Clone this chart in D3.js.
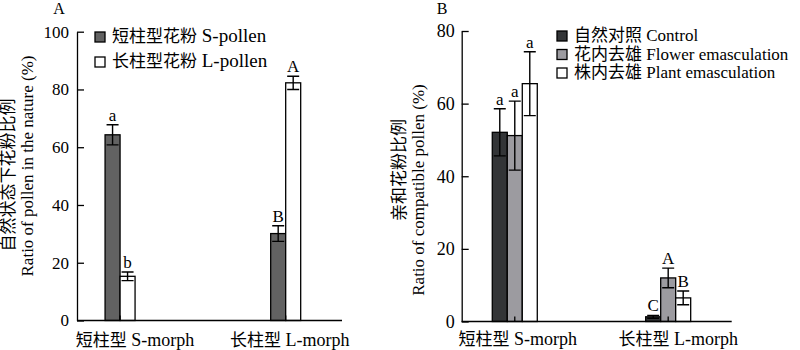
<!DOCTYPE html>
<html>
<head>
<meta charset="utf-8">
<script src="https://cdn.jsdelivr.net/npm/d3@7"></script>
<style>
  html, body { margin: 0; padding: 0; background: #fff; }
  svg { display: block; }
  text { font-family: "Liberation Serif", "Noto Sans CJK SC", serif; fill: #000; }
</style>
</head>
<body>
<svg id="chart" width="800" height="350"></svg>
<script>
// ---- data ----
const morphs = ["短柱型 S-morph", "长柱型 L-morph"];

// Panel A: pollen composition in natural conditions (%)
const pollenSeries = ["短柱型花粉 S-pollen", "长柱型花粉 L-pollen"];
const sPollen = [64.3, 30.1];
const sPollenErr = [3.5, 2.7];
const sPollenSig = ["a", "B"];
const lPollen = [15.3, 82.3];
const lPollenErr = [1.5, 2.3];
const lPollenSig = ["b", "A"];
const ticksA = [0, 20, 40, 60, 80, 100];

// Panel B: compatible pollen ratio under emasculation treatments (%)
const treatments = ["自然对照 Control", "花内去雄 Flower emasculation", "株内去雄 Plant emasculation"];
const control = [52.1, 1.3];
const controlErr = [6.5, 0.4];
const controlSig = ["a", "C"];
const flowerEm = [51.2, 12.0];
const flowerEmErr = [9.5, 2.7];
const flowerEmSig = ["a", "A"];
const plantEm = [65.5, 6.5];
const plantEmErr = [8.8, 1.9];
const plantEmSig = ["a", "B"];
const ticksB = [0, 20, 40, 60, 80];

// ---- layout ----
const svg = d3.select("#chart");
const FS = 17;
const BAR_W = 15;

// Writes "中文 Latin" as two tspans so the Chinese and Latin parts can be sized separately.
function mixedText(sel, str, cjkSize, latSize) {
  const cut = str.indexOf(" ");
  sel.append("tspan").attr("font-size", cjkSize).text(str.slice(0, cut));
  sel.append("tspan").attr("font-size", latSize).text(str.slice(cut));
}

function drawPanel(cfg) {
  const g = svg.append("g");
  const y = d3.scaleLinear().domain([0, cfg.yMax]).range([cfg.bottom, cfg.top]);
  const x = d3.scaleLinear().domain(cfg.xDomain).range([cfg.left, cfg.right]);
  const inner = d3.scaleBand()
    .domain(cfg.series.map(s => s.name))
    .range([-BAR_W * cfg.series.length / 2, BAR_W * cfg.series.length / 2])
    .paddingInner(0);

  // y axis, ticks pointing inward
  const yAxis = d3.axisLeft(y).tickValues(cfg.ticks).tickSizeInner(-7).tickSizeOuter(0).tickPadding(cfg.tickPad);
  const ya = g.append("g").attr("transform", `translate(${cfg.left},0)`).call(yAxis);
  ya.selectAll("path, line").attr("stroke", "#000").attr("stroke-width", 1.3);
  ya.selectAll("text").attr("font-size", cfg.tickFS).attr("font-family", "Liberation Serif");

  // bars
  cfg.series.forEach(s => {
    const rows = morphs.map((m, i) => ({ i, v: s.values[i], e: s.err[i], sig: s.sig[i] }));
    const sg = g.append("g");
    sg.selectAll("rect").data(rows).join("rect")
      .attr("x", d => x(d.i) + inner(s.name))
      .attr("y", d => y(d.v))
      .attr("width", inner.bandwidth())
      .attr("height", d => y(0) - y(d.v))
      .attr("fill", s.color)
      .attr("stroke", "#000")
      .attr("stroke-width", 1.3);

    const cx = d => x(d.i) + inner(s.name) + inner.bandwidth() / 2;
    // error bars
    sg.selectAll("path.err").data(rows).join("path")
      .attr("class", "err")
      .attr("fill", "none")
      .attr("stroke", "#000")
      .attr("stroke-width", 1.4)
      .attr("d", d => {
        const c = cx(d), t = y(d.v + d.e), b = y(Math.max(0, d.v - d.e));
        return `M${c - 6},${t}H${c + 6}M${c},${t}V${b}M${c - 6},${b}H${c + 6}`;
      });
    // significance letters
    sg.selectAll("text.sig").data(rows).join("text")
      .attr("class", "sig")
      .attr("x", cx)
      .attr("y", d => y(d.v + d.e) - 4)
      .attr("text-anchor", "middle")
      .attr("font-size", cfg.sigFS)
      .text(d => d.sig);
  });

  // x axis: baseline, inward ticks at group centres, category labels
  g.append("line")
    .attr("x1", cfg.left).attr("x2", cfg.right)
    .attr("y1", y(0)).attr("y2", y(0))
    .attr("stroke", "#000").attr("stroke-width", 1.3);
  g.selectAll("line.xt").data(morphs).join("line")
    .attr("class", "xt")
    .attr("x1", (m, i) => x(i)).attr("x2", (m, i) => x(i))
    .attr("y1", y(0)).attr("y2", y(0) - 5)
    .attr("stroke", "#000").attr("stroke-width", 1.3);
  g.selectAll("text.xl").data(morphs).join("text")
    .attr("class", "xl")
    .attr("x", (m, i) => x(i) + cfg.labelShift[i])
    .attr("y", cfg.labelY)
    .attr("text-anchor", "middle")
    .each(function (m) { mixedText(d3.select(this), m, FS, cfg.xLatFS); });

  // y axis title (two lines)
  cfg.yTitle.forEach((t, k) => {
    g.append("text")
      .attr("transform", `translate(${cfg.yTitleX[k]},${cfg.yTitleY[k]}) rotate(-90)`)
      .attr("text-anchor", "middle")
      .attr("font-size", FS)
      .text(t);
  });

  // panel letter
  g.append("text")
    .attr("x", cfg.letterX).attr("y", 14)
    .attr("text-anchor", "middle")
    .attr("font-size", 16)
    .text(cfg.letter);

  // legend
  const lg = g.append("g").attr("transform", `translate(${cfg.legendX},${cfg.legendY})`);
  cfg.series.forEach((s, k) => {
    const row = lg.append("g").attr("transform", `translate(0,${k * cfg.legendStep})`);
    row.append("rect")
      .attr("x", 0).attr("y", -10).attr("width", 10).attr("height", 10)
      .attr("fill", s.color).attr("stroke", "#000").attr("stroke-width", 1.3);
    const t = row.append("text").attr("x", 17).attr("y", 0);
    mixedText(t, s.name, FS, cfg.legendLatFS);
  });
}

drawPanel({
  letter: "A", letterX: 59,
  yMax: 100, ticks: ticksA, top: 31.7, bottom: 320.5,
  left: 77, right: 342, xDomain: [-0.26, 1.34], tickPad: 8, tickFS: 17, sigFS: 17,
  labelShift: [15, 4], labelY: 346, xLatFS: 18,
  yTitle: ["自然状态下花粉比例", "Ratio of pollen in the nature (%)"],
  yTitleX: [14, 33], yTitleY: [175, 166],
  legendX: 95, legendY: 42, legendStep: 25, legendLatFS: 19,
  series: [
    { name: pollenSeries[0], values: sPollen, err: sPollenErr, sig: sPollenSig, color: "#626262" },
    { name: pollenSeries[1], values: lPollen, err: lPollenErr, sig: lPollenSig, color: "#ffffff" }
  ]
});

drawPanel({
  letter: "B", letterX: 442,
  yMax: 80, ticks: ticksB, top: 31, bottom: 321.5,
  left: 461.7, right: 731.7, xDomain: [-0.346, 1.414], tickPad: 7, tickFS: 18, sigFS: 17,
  labelShift: [3, 10], labelY: 345, xLatFS: 18,
  yTitle: ["亲和花粉比例", "Ratio of compatible pollen (%)"],
  yTitleX: [405, 424], yTitleY: [170, 190],
  legendX: 557, legendY: 41, legendStep: 18.5, legendLatFS: 17,
  series: [
    { name: treatments[0], values: control, err: controlErr, sig: controlSig, color: "#333537" },
    { name: treatments[1], values: flowerEm, err: flowerEmErr, sig: flowerEmSig, color: "#9c9ba0" },
    { name: treatments[2], values: plantEm, err: plantEmErr, sig: plantEmSig, color: "#ffffff" }
  ]
});
</script>
</body>
</html>
